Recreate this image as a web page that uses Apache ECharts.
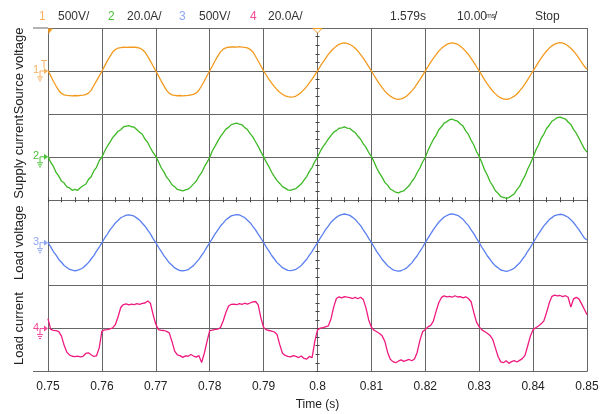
<!DOCTYPE html>
<html>
<head>
<meta charset="utf-8">
<script src="https://cdn.jsdelivr.net/npm/echarts@6/dist/echarts.min.js"></script>
<style>
  html, body { margin: 0; padding: 0; background: #fff; }
  #chart { width: 605px; height: 414px; }
</style>
</head>
<body>
<div id="chart"></div>
<script>
// Scope capture: four channels sampled every 0.5 ms from t = 0.75 s
const t0 = 0.75;
const dt = 0.0005;
const timeMin = 0.75, timeMax = 0.85, timeStep = 0.01;

const channelNames = ['Source voltage', 'Supply current', 'Load voltage', 'Load current'];
const channelScales = ['500V/', '20.0A/', '500V/', '20.0A/'];
const channelPerDiv = [500, 20, 500, 20];
const headerRight = ['1.579s', '10.00', 'ms', '/', 'Stop'];

// Channel 1: source voltage (V)
const sourceVoltage = [
  2, -55, -120, -176, -228, -262, -278, -285, -287, -290, -286, -289, -285, -281, -276, -258, -226, -170, -116, -60,
  -3, 56, 117, 170, 220, 250, 265, 272, 276, 274, 278, 276, 277, 273, 266, 250, 218, 170, 115, 57,
  1, -57, -118, -174, -226, -260, -279, -284, -289, -286, -290, -287, -284, -280, -273, -256, -225, -172, -117, -56,
  2, 58, 119, 172, 222, 253, 268, 276, 279, 281, 277, 282, 278, 275, 268, 252, 221, 171, 116, 58,
  0, -50, -98, -142, -182, -218, -248, -272, -290, -300, -306, -301, -292, -273, -247, -217, -180, -140, -95, -48,
  0, 52, 101, 147, 192, 229, 262, 289, 310, 320, 326, 322, 308, 290, 264, 231, 190, 149, 99, 50,
  -1, -53, -103, -150, -195, -235, -268, -293, -313, -326, -331, -325, -314, -295, -266, -232, -195, -148, -101, -52,
  1, 50, 102, 146, 190, 231, 263, 288, 309, 322, 327, 320, 310, 288, 262, 228, 192, 146, 100, 49,
  0, -52, -104, -150, -193, -234, -267, -295, -313, -327, -330, -327, -312, -294, -268, -233, -194, -151, -102, -50,
  2, 51, 103, 149, 193, 232, 266, 292, 312, 324, 329, 323, 311, 291, 265, 233, 192, 150, 101, 55, 20
];

// Channel 2: supply current (A)
const supplyCurrent = [
  0.3, -2.6, -4.5, -7.3, -9.0, -11.3, -12.2, -14.0, -14.5, -15.6, -15.2, -15.6, -14.4, -13.5, -12.8, -10.6, -9.3, -6.6, -4.9, -1.8,
  -0.2, 2.6, 4.9, 6.8, 8.9, 10.4, 11.9, 12.6, 13.9, 14.3, 14.5, 14.0, 13.8, 12.6, 11.4, 10.5, 8.2, 6.7, 4.2, 1.9,
  0.2, -2.3, -5.1, -7.0, -9.5, -11.0, -13.0, -13.9, -15.2, -15.5, -15.9, -15.4, -15.1, -14.0, -12.6, -11.4, -9.1, -7.4, -4.7, -2.6,
  -0.3, 2.8, 5.0, 7.3, 9.4, 11.1, 12.9, 13.7, 15.0, 15.3, 15.7, 15.2, 14.9, 13.6, 12.7, 10.8, 9.3, 7.0, 4.9, 2.3,
  0.1, -2.5, -4.6, -7.2, -9.2, -11.1, -12.4, -13.9, -14.6, -15.4, -15.6, -15.2, -14.8, -13.7, -12.6, -10.9, -9.2, -6.8, -4.9, -2.2,
  -0.2, 2.5, 4.6, 6.4, 8.3, 9.9, 11.5, 12.2, 13.3, 13.5, 13.9, 13.4, 13.2, 12.1, 11.3, 9.6, 8.2, 6.0, 4.4, 2.0,
  0.2, -2.4, -5.3, -7.6, -9.6, -11.9, -13.2, -15.0, -15.7, -16.5, -16.8, -16.2, -15.9, -14.6, -13.5, -11.5, -9.9, -7.3, -5.2, -2.4,
  -0.3, 3.0, 5.6, 8.1, 10.0, 12.6, 14.0, 15.7, 16.4, 17.3, 17.5, 17.0, 16.6, 15.3, 14.3, 12.1, 10.4, 7.7, 5.5, 2.5,
  0.2, -2.8, -6.1, -8.5, -11.5, -13.4, -15.8, -17.0, -18.5, -18.9, -19.3, -19.0, -18.1, -17.3, -15.3, -13.8, -11.1, -8.9, -5.7, -3.1,
  -0.2, 3.1, 5.5, 8.6, 10.6, 13.2, 14.7, 16.6, 17.4, 18.3, 18.5, 18.0, 17.6, 16.2, 15.1, 12.8, 11.0, 8.7, 6.2, 3.8, 2.2
];

// Channel 3: load voltage (V)
const loadVoltage = [
  2, -48, -103, -146, -195, -228, -266, -288, -312, -320, -328, -321, -309, -292, -262, -232, -190, -150, -99, -53,
  -2, 52, 98, 149, 188, 230, 259, 290, 305, 321, 324, 318, 308, 286, 262, 226, 192, 145, 102, 48,
  1, -53, -100, -151, -191, -234, -263, -294, -310, -326, -327, -322, -314, -290, -267, -230, -195, -147, -103, -49,
  -1, 50, 103, 146, 194, 228, 266, 289, 312, 320, 327, 323, 308, 292, 262, 233, 190, 150, 99, 52,
  2, -52, -98, -149, -190, -232, -261, -291, -307, -323, -326, -319, -310, -288, -265, -228, -193, -145, -102, -48,
  -1, 53, 101, 152, 194, 237, 268, 295, 316, 328, 334, 327, 318, 295, 271, 233, 198, 149, 104, 50,
  2, -50, -104, -148, -196, -231, -268, -292, -316, -324, -331, -327, -312, -296, -265, -235, -192, -152, -100, -53,
  0, 54, 102, 153, 195, 238, 269, 299, 316, 331, 335, 328, 319, 297, 272, 234, 199, 150, 105, 51,
  1, -53, -101, -152, -193, -236, -270, -293, -318, -326, -333, -327, -314, -298, -266, -237, -193, -153, -100, -54,
  -1, 52, 103, 148, 196, 232, 269, 292, 316, 324, 331, 327, 312, 296, 268, 235, 193, 152, 102, 55, 30
];

// Channel 4: load current (A)
const loadCurrent = [
  4.6, -0.4, -0.8, -1.0, -1.4, -3.5, -7.8, -11.0, -12.4, -12.9, -13.1, -12.8, -13.2, -12.9, -11.6, -11.3, -12.2, -13.0, -12.7, -9.0,
  -1.2, -0.6, -0.5, -0.2, 0.3, 1.8, 5.5, 9.8, 11.2, 11.5, 11.0, 11.4, 11.2, 11.6, 11.3, 11.7, 11.9, 12.8, 11.8, 6.5,
  2.0, -0.5, -0.8, -0.9, -1.3, -2.0, -6.0, -10.5, -12.3, -12.6, -13.4, -12.7, -12.9, -12.1, -12.8, -13.3, -12.6, -15.8, -11.5, -6.0,
  -1.0, -0.7, -0.4, -0.3, 0.5, 3.5, 7.5, 10.5, 11.3, 11.4, 11.1, 11.6, 11.3, 11.8, 11.4, 11.9, 12.4, 12.6, 11.0, 5.0,
  0.5, -0.6, -0.9, -1.2, -1.6, -2.8, -7.5, -11.5, -12.5, -12.9, -13.2, -12.6, -13.0, -13.5, -12.8, -13.9, -14.2, -13.0, -13.5, -6.0,
  -0.6, 0.2, 0.4, 0.8, 1.2, 4.5, 10.0, 14.0, 14.8, 14.3, 14.9, 14.6, 14.4, 14.0, 14.5, 13.9, 14.6, 13.5, 9.5, 4.0,
  0.6, -0.8, -1.5, -2.3, -3.4, -6.0, -11.0, -14.3, -15.4, -15.9, -15.2, -14.6, -15.3, -14.8, -14.4, -15.0, -14.2, -11.0, -5.5, -1.5,
  -0.4, 0.8, 1.5, 3.5, 8.0, 12.0, 14.5, 15.2, 14.8, 15.0, 14.6, 15.3, 14.7, 14.9, 14.3, 14.8, 14.0, 12.5, 7.5, 3.0,
  0.8, -0.6, -1.4, -2.2, -3.2, -5.0, -9.0, -13.0, -15.5, -15.9, -15.0, -16.2, -15.4, -14.9, -15.6, -14.8, -14.0, -12.5, -8.0, -3.5,
  -0.5, 0.4, 1.2, 2.2, 3.6, 7.5, 12.0, 15.0, 15.6, 15.2, 15.4, 14.9, 15.3, 14.6, 10.0, 13.8, 14.5, 13.8, 11.5, 9.0, 6.4
];

const channelData = [sourceVoltage, supplyCurrent, loadVoltage, loadCurrent];

// ---- styling ----
const traceColors = ['#f39a1e', '#3cb824', '#5a7ff0', '#ee1a7f'];
const labelColors = ['#f7b060', '#4cc23a', '#8ea6f4', '#f04898'];
const gridColor = '#666';
const tickColor = '#444';
const textColor = '#222';
const FONT = 'Liberation Sans, Arial, Helvetica, sans-serif';

const plotLeft = 48, plotRight = 18, plotTop = 28, plotBottom = 42.5;
const chartH = 414, chartW = 605;
const bandH = (chartH - plotTop - plotBottom) / 4;
const plotW = chartW - plotLeft - plotRight;

// The horizontal centre line of the screen lies between bands 2 and 3:
// band 2's bottom axis and band 3's top axis carry the fine graduation there.
const xAxisPos = ['top', 'bottom', 'top', 'bottom'];
const xAxisCentreTicks = [false, true, true, false];

const grids = [], xAxes = [], yAxes = [], series = [];
for (let i = 0; i < 4; i++) {
  grids.push({ left: plotLeft, right: plotRight, top: plotTop + i * bandH, height: bandH });
  const isLast = i === 3;
  const centre = xAxisCentreTicks[i];
  xAxes.push({
    type: 'value', gridIndex: i, min: timeMin, max: timeMax, interval: timeStep,
    position: xAxisPos[i],
    axisLine: { show: isLast, onZero: false, lineStyle: { color: gridColor, width: 1 } },
    axisTick: { show: centre, inside: true, length: 2.5, lineStyle: { color: tickColor, width: 1 } },
    minorTick: { show: centre, splitNumber: 4, length: 2.5, lineStyle: { color: tickColor, width: 1 } },
    axisLabel: { show: isLast, color: textColor, fontSize: 12, fontFamily: FONT, margin: 9 },
    splitLine: { show: true, lineStyle: { color: gridColor, width: 1 } },
    name: isLast ? 'Time (s)' : '',
    nameLocation: 'middle', nameGap: 27,
    nameTextStyle: { color: textColor, fontSize: 12, fontFamily: FONT }
  });
  const pd = channelPerDiv[i];
  yAxes.push({
    type: 'value', gridIndex: i, min: -pd, max: pd, interval: pd,
    position: 'left',
    axisLine: { show: false, onZero: false }, axisTick: { show: false }, axisLabel: { show: false },
    splitLine: { show: true, lineStyle: { color: gridColor, width: 1 } },
    name: channelNames[i], nameLocation: 'middle', nameGap: 22, nameRotate: 90,
    nameTextStyle: { color: textColor, fontSize: 13, fontFamily: FONT }
  });
  const data = channelData[i].map((v, k) => [t0 + k * dt, v]);
  series.push({
    type: 'line', xAxisIndex: i, yAxisIndex: i, data: data,
    showSymbol: false, symbol: 'none', animation: false, silent: true,
    lineStyle: { color: traceColors[i], width: 1.3 },
    z: 5
  });
}
// fine graduation along the vertical centre line (axis sits just left of centre, ticks point right)
for (let i = 0; i < 4; i++) {
  const pd = channelPerDiv[i];
  yAxes.push({
    type: 'value', gridIndex: i, min: -pd, max: pd, interval: pd,
    position: 'right', offset: -(plotW / 2 + 2),
    axisLine: { show: false, onZero: false },
    axisTick: { show: true, length: 4, lineStyle: { color: tickColor, width: 1 } },
    minorTick: { show: true, splitNumber: 5, length: 4, lineStyle: { color: tickColor, width: 1 } },
    axisLabel: { show: false }, splitLine: { show: false }
  });
}

const chart = echarts.init(document.getElementById('chart'), null, { renderer: 'canvas' });
chart.setOption({
  backgroundColor: '#fff',
  animation: false,
  grid: grids, xAxis: xAxes, yAxis: yAxes, series: series
});

// ---- scope decorations: header, channel ground markers, trigger markers ----
const graphics = [];
const headerY = 16.5;
const headerItems = [
  { text: '1', x: 39, color: labelColors[0] },
  { text: channelScales[0], x: 58, color: '#333' },
  { text: '2', x: 108, color: labelColors[1] },
  { text: channelScales[1], x: 127, color: '#333' },
  { text: '3', x: 179, color: labelColors[2] },
  { text: channelScales[2], x: 199, color: '#333' },
  { text: '4', x: 250, color: labelColors[3] },
  { text: channelScales[3], x: 268, color: '#333' },
  { text: headerRight[0], x: 390, color: '#333' },
  { text: headerRight[4], x: 535, color: '#333' }
];
headerItems.forEach(h => graphics.push({
  type: 'text', silent: true,
  style: { text: h.text, x: h.x, y: headerY, fill: h.color, font: '12px ' + FONT, textVerticalAlign: 'middle' }
}));
// time/div readout with the small unit glyph
graphics.push({ type: 'text', silent: true,
  style: { text: headerRight[1], x: 457, y: headerY, fill: '#333', font: '12px ' + FONT, textVerticalAlign: 'middle' } });
graphics.push({ type: 'text', silent: true,
  style: { text: headerRight[2], x: 486, y: headerY, fill: '#333', font: '7px ' + FONT, textVerticalAlign: 'middle' } });
graphics.push({ type: 'text', silent: true,
  style: { text: headerRight[3], x: 494, y: headerY, fill: '#333', font: '12px ' + FONT, textVerticalAlign: 'middle' } });

// frame lines that run past the left edge at the very top and bottom
const topLeft = chart.convertToPixel({ gridIndex: 0 }, [timeMin, channelPerDiv[0]]);
const botLeft = chart.convertToPixel({ gridIndex: 3 }, [timeMin, -channelPerDiv[3]]);
const topMid = chart.convertToPixel({ gridIndex: 0 }, [(timeMin + timeMax) / 2, channelPerDiv[0]]);
graphics.push({ type: 'line', silent: true, shape: { x1: 33, y1: topLeft[1], x2: topLeft[0], y2: topLeft[1] }, style: { stroke: gridColor, lineWidth: 1 } });
graphics.push({ type: 'line', silent: true, shape: { x1: 33, y1: botLeft[1], x2: botLeft[0], y2: botLeft[1] }, style: { stroke: gridColor, lineWidth: 1 } });

// trigger position markers
graphics.push({ type: 'polygon', silent: true, z: 10,
  shape: { points: [[topLeft[0], topLeft[1] + 0.5], [topLeft[0] + 5, topLeft[1] + 0.5], [topLeft[0] + 0.5, topLeft[1] + 6]] },
  style: { fill: traceColors[0] } });
graphics.push({ type: 'polygon', silent: true, z: 10,
  shape: { points: [[topMid[0] - 4.5, topMid[1] + 0.5], [topMid[0] + 4.5, topMid[1] + 0.5], [topMid[0], topMid[1] + 5]] },
  style: { fill: '#fff', stroke: traceColors[0], lineWidth: 1 } });

for (let i = 0; i < 4; i++) {
  const p = chart.convertToPixel({ gridIndex: i }, [timeMin, 0]);
  const c = labelColors[i];
  const x = p[0], y = p[1];
  graphics.push({ type: 'text', silent: true, z: 10,
    style: { text: String(i + 1), x: x - 9, y: y - 0.5, fill: c, font: '11px ' + FONT, textAlign: 'right', textVerticalAlign: 'middle' } });
  graphics.push({ type: 'line', silent: true, z: 10, shape: { x1: x - 8, y1: y, x2: x - 2, y2: y }, style: { stroke: c, lineWidth: 1 } });
  graphics.push({ type: 'polygon', silent: true, z: 10, shape: { points: [[x - 4, y - 3], [x, y], [x - 4, y + 3]] }, style: { fill: c } });
  graphics.push({ type: 'line', silent: true, z: 10, shape: { x1: x - 8, y1: y, x2: x - 8, y2: y + 6 }, style: { stroke: c, lineWidth: 1 } });
  graphics.push({ type: 'line', silent: true, z: 10, shape: { x1: x - 11, y1: y + 6, x2: x - 5, y2: y + 6 }, style: { stroke: c, lineWidth: 1 } });
  graphics.push({ type: 'line', silent: true, z: 10, shape: { x1: x - 10, y1: y + 8, x2: x - 6, y2: y + 8 }, style: { stroke: c, lineWidth: 1 } });
  graphics.push({ type: 'line', silent: true, z: 10, shape: { x1: x - 9, y1: y + 10, x2: x - 7, y2: y + 10 }, style: { stroke: c, lineWidth: 1 } });
  if (i === 0) {
    // trigger level "T" marker
    graphics.push({ type: 'line', silent: true, z: 10, shape: { x1: x - 7, y1: y - 10.5, x2: x - 1, y2: y - 10.5 }, style: { stroke: c, lineWidth: 1 } });
    graphics.push({ type: 'line', silent: true, z: 10, shape: { x1: x - 4, y1: y - 10.5, x2: x - 4, y2: y - 3 }, style: { stroke: c, lineWidth: 1 } });
  }
}
chart.setOption({ graphic: graphics });
</script>
</body>
</html>
